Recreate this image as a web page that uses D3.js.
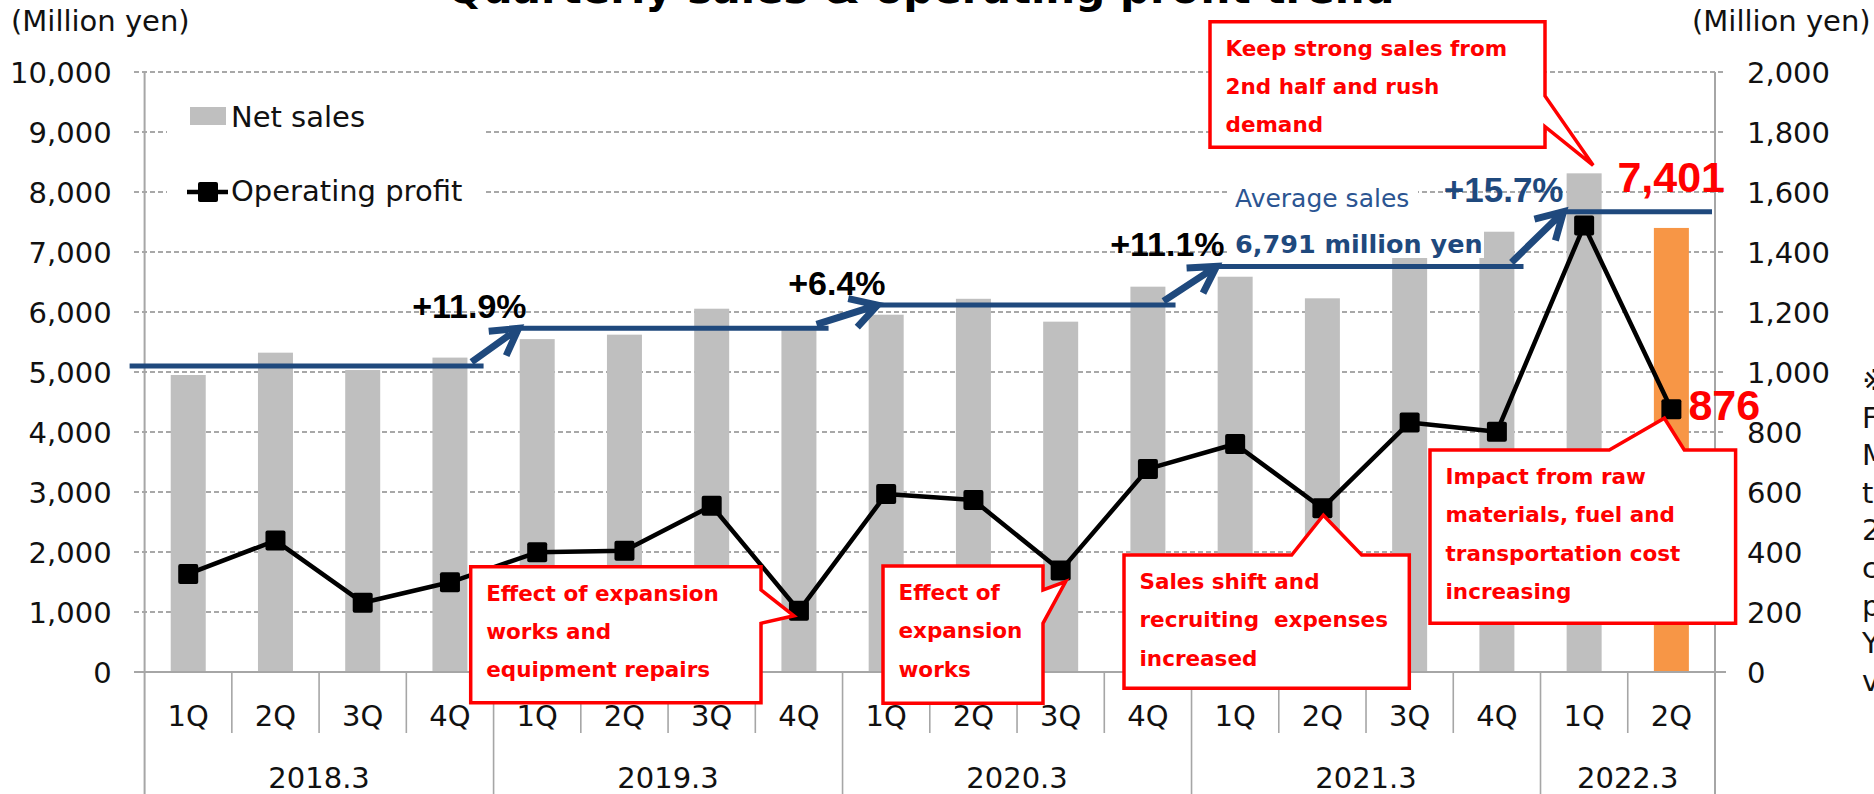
<!DOCTYPE html>
<html>
<head>
<meta charset="utf-8">
<script src="https://cdn.jsdelivr.net/npm/d3@7"></script>
<style>
  body { margin: 0; background: #fff; }
  svg { display: block; font-family: "DejaVu Sans", Verdana, sans-serif; }
</style>
</head>
<body>
<svg id="chart" width="1874" height="794"></svg>
<script>
// ---- data ----
const quarters = ["1Q","2Q","3Q","4Q","1Q","2Q","3Q","4Q","1Q","2Q","3Q","4Q","1Q","2Q","3Q","4Q","1Q","2Q"];
const fiscalYears = ["2018.3","2019.3","2020.3","2021.3","2022.3"];
const yearOfQuarter = [0,0,0,0,1,1,1,1,2,2,2,2,3,3,3,3,4,4];
const netSales = [4950, 5322, 5033, 5240, 5548, 5622, 6055, 5705, 5955, 6220, 5839, 6422, 6588, 6228, 6990, 7338, 8311, 7401];
const operatingProfit = [327, 438, 231, 299, 399, 404, 554, 204, 593, 573, 338, 677, 760, 546, 832, 801, 1488, 876];
const avgSales = [5100, 5728, 6115, 6760, 7672];
const growthLabels = ["+11.9%", "+6.4%", "+11.1%", "+15.7%"];
const leftTicks = [0, 1000, 2000, 3000, 4000, 5000, 6000, 7000, 8000, 9000, 10000];
const rightTicks = [0, 200, 400, 600, 800, 1000, 1200, 1400, 1600, 1800, 2000];
const footnoteLines = ["※", "F", "M", "t", "2", "c", "p", "Y", "v"];
const callouts = [
  { idx: 16, lines: ["Keep strong sales from", "2nd half and rush", "demand"] },
  { idx: 7,  lines: ["Effect of expansion", "works and", "equipment repairs"] },
  { idx: 10, lines: ["Effect of", "expansion", "works"] },
  { idx: 13, lines: ["Sales shift and", "recruiting  expenses", "increased"] },
  { idx: 17, lines: ["Impact from raw", "materials, fuel and", "transportation cost", "increasing"] }
];

const svg = d3.select("#chart");
const W = 1874, H = 794;
svg.append("rect").attr("width", W).attr("height", H).attr("fill", "#fff");

const x0 = 144.6, x1 = 1715, yTop = 72, yBase = 672;
const x = d3.scaleBand().domain(d3.range(quarters.length)).range([x0, x1]).padding(0);
const yL = d3.scaleLinear().domain([0, 10000]).range([yBase, yTop]);
const yR = d3.scaleLinear().domain([0, 2000]).range([yBase, yTop]);
const bw = x.bandwidth();
const cx = i => x(i) + bw / 2;

const axisGrey = "#a6a6a6";
const blue = "#1f497d";
const red = "#ff0000";

// title (cut off at the top in the original)
svg.append("text").attr("x", 447).attr("y", 3)
  .attr("font-size", 42).attr("font-weight", "bold").attr("fill", "#000")
  .text("Quarterly sales & operating profit trend");

// gridlines
svg.append("g").selectAll("line").data(leftTicks.filter(d => d > 0)).join("line")
  .attr("x1", 134).attr("x2", 1726)
  .attr("y1", d => yL(d)).attr("y2", d => yL(d))
  .attr("stroke", "#8c8c8c").attr("stroke-width", 1.4).attr("stroke-dasharray", "5,3");

// legend background hides the gridlines behind it
svg.append("rect").attr("x", 167).attr("y", 84).attr("width", 316).attr("height", 150).attr("fill", "#fff");

// bars
svg.append("g").selectAll("rect").data(netSales).join("rect")
  .attr("x", (d, i) => cx(i) - 17.5)
  .attr("width", 35)
  .attr("y", d => yL(d))
  .attr("height", d => yBase - yL(d))
  .attr("fill", (d, i) => i === netSales.length - 1 ? "#f79646" : "#bfbfbf");

// axes frame
svg.append("line").attr("x1", 134).attr("x2", 1726).attr("y1", yBase).attr("y2", yBase)
  .attr("stroke", axisGrey).attr("stroke-width", 2);
svg.append("line").attr("x1", x0).attr("x2", x0).attr("y1", yTop).attr("y2", H)
  .attr("stroke", axisGrey).attr("stroke-width", 2);
svg.append("line").attr("x1", x1).attr("x2", x1).attr("y1", yTop).attr("y2", H)
  .attr("stroke", axisGrey).attr("stroke-width", 2);
// category separators
svg.append("g").selectAll("line").data(d3.range(1, quarters.length)).join("line")
  .attr("x1", i => x(i)).attr("x2", i => x(i))
  .attr("y1", yBase).attr("y2", i => yearOfQuarter[i] !== yearOfQuarter[i - 1] ? H : 733)
  .attr("stroke", axisGrey).attr("stroke-width", 1.6);

// y axes labels
const gL = svg.append("g").attr("transform", `translate(${x0},0)`)
  .call(d3.axisLeft(yL).tickValues(leftTicks).tickFormat(d3.format(",")).tickSize(0).tickPadding(33));
const gR = svg.append("g").attr("transform", `translate(${x1},0)`)
  .call(d3.axisRight(yR).tickValues(rightTicks).tickFormat(d3.format(",")).tickSize(0).tickPadding(32));
const gX = svg.append("g").attr("transform", `translate(0,${yBase})`)
  .call(d3.axisBottom(x).tickFormat(i => quarters[i]).tickSize(0).tickPadding(33));
[gL, gR, gX].forEach(g => {
  g.select(".domain").remove();
  g.selectAll("text").attr("font-size", 29).attr("fill", "#111")
    .attr("font-family", "'DejaVu Sans', Verdana, sans-serif");
});
gL.selectAll("text").attr("dy", "0.36em");
gR.selectAll("text").attr("dy", "0.36em");

// fiscal year labels
svg.append("g").selectAll("text").data(fiscalYears).join("text")
  .attr("x", (d, k) => {
    const idx = yearOfQuarter.map((v, i) => v === k ? i : -1).filter(i => i >= 0);
    return (x(idx[0]) + x(idx[idx.length - 1]) + bw) / 2;
  })
  .attr("y", 788).attr("text-anchor", "middle").attr("font-size", 29).attr("fill", "#111")
  .text(d => d);

// unit labels
svg.append("text").attr("x", 11).attr("y", 31).attr("font-size", 29).attr("fill", "#111").text("(Million yen)");
svg.append("text").attr("x", 1692).attr("y", 31).attr("font-size", 29).attr("fill", "#111").text("(Million yen)");

// average sales lines and growth arrows
const groupStart = k => x(yearOfQuarter.indexOf(k));
const groupEnd = k => x(yearOfQuarter.lastIndexOf(k)) + bw;
const startPad = [-15, 27, 37, 27, 25];
const endPad = [10, 14, 16, 17, 3];
const segs = avgSales.map((v, k) => ({
  xa: groupStart(k) + startPad[k], xb: groupEnd(k) - endPad[k], y: yL(v)
}));
svg.append("g").selectAll("line").data(segs).join("line")
  .attr("x1", d => d.xa).attr("x2", d => d.xb).attr("y1", d => d.y).attr("y2", d => d.y)
  .attr("stroke", blue).attr("stroke-width", 5);

const arrowG = svg.append("g");
growthLabels.forEach((lab, k) => {
  const s = [segs[k].xb - 12, segs[k].y - 4];
  const t = [segs[k + 1].xa - 2, segs[k + 1].y];
  const ang = Math.atan2(s[1] - t[1], s[0] - t[0]);
  const L = 30, a = Math.PI / 6;
  const p1 = [t[0] + L * Math.cos(ang + a), t[1] + L * Math.sin(ang + a)];
  const p2 = [t[0] + L * Math.cos(ang - a), t[1] + L * Math.sin(ang - a)];
  arrowG.append("path")
    .attr("d", `M${s[0]},${s[1]}L${t[0]},${t[1]}M${p1[0]},${p1[1]}L${t[0]},${t[1]}L${p2[0]},${p2[1]}`)
    .attr("fill", "none").attr("stroke", blue).attr("stroke-width", 7).attr("stroke-linejoin", "miter");
  arrowG.append("text").attr("x", t[0] + (k === 3 ? 0 : 8)).attr("y", t[1] - 10)
    .attr("text-anchor", "end").attr("font-family", "'Liberation Sans', Arial, sans-serif")
    .attr("font-weight", "bold").attr("font-size", k === 3 ? 35 : 34)
    .attr("fill", k === 3 ? blue : "#000").text(lab);
});

// average sales note
svg.append("rect").attr("x", 1230).attr("y", 185).attr("width", 188).attr("height", 27).attr("fill", "#fff");
svg.append("rect").attr("x", 1230).attr("y", 229).attr("width", 254).attr("height", 29).attr("fill", "#fff");
svg.append("text").attr("x", 1235).attr("y", 207).attr("font-size", 25).attr("fill", "#2b5592").text("Average sales");
svg.append("text").attr("x", 1235).attr("y", 252.5).attr("font-size", 25.5).attr("font-weight", "bold")
  .attr("fill", blue).text("6,791 million yen");

// operating profit line
const line = d3.line().x((d, i) => cx(i)).y(d => yR(d));
svg.append("path").datum(operatingProfit).attr("d", line)
  .attr("fill", "none").attr("stroke", "#000").attr("stroke-width", 4.5).attr("stroke-linejoin", "round");
svg.append("g").selectAll("rect").data(operatingProfit).join("rect")
  .attr("x", (d, i) => cx(i) - 10).attr("y", d => yR(d) - 10)
  .attr("width", 20).attr("height", 20).attr("rx", 2).attr("fill", "#000");

// latest values
const last = netSales.length - 1;
svg.append("text").attr("x", cx(last) - 54).attr("y", yL(netSales[last]) - 36)
  .attr("font-family", "'Liberation Sans', Arial, sans-serif").attr("font-weight", "bold")
  .attr("font-size", 43).attr("fill", red).text(d3.format(",")(netSales[last]));
svg.append("text").attr("x", cx(last) + 17).attr("y", yR(operatingProfit[last]) + 11)
  .attr("font-family", "'Liberation Sans', Arial, sans-serif").attr("font-weight", "bold")
  .attr("font-size", 43).attr("fill", red).text(operatingProfit[last]);

// callouts
const layout = [
  { box: [1210, 21.7, 1545, 147.3], side: "right", a: 96, b: 126.7, tip: i => [cx(i) + 9, yL(netSales[i]) - 8] },
  { box: [470.7, 566.7, 761, 702.7], side: "right", a: 590, b: 623.3, tip: i => [cx(i) - 5, yR(operatingProfit[i]) + 5] },
  { box: [883, 566, 1043, 703.3], side: "right", a: 590, b: 623.3, tip: i => [cx(i) + 5, yR(operatingProfit[i]) + 11] },
  { box: [1124, 555, 1409.3, 688.3], side: "top", a: 1291.7, b: 1361.7, tip: i => [cx(i) + 1, yR(operatingProfit[i]) + 7] },
  { box: [1430, 450, 1735.6, 623.3], side: "top", a: 1609.3, b: 1684.3, tip: i => [cx(i) - 7, yR(operatingProfit[i]) + 9] }
];
const cg = svg.append("g");
callouts.forEach((c, k) => {
  const L = layout[k];
  const [bx0, by0, bx1, by1] = L.box;
  const [tx, ty] = L.tip(c.idx);
  let d;
  if (L.side === "right") {
    d = `M${bx0},${by0}L${bx1},${by0}L${bx1},${L.a}L${tx},${ty}L${bx1},${L.b}L${bx1},${by1}L${bx0},${by1}Z`;
  } else {
    d = `M${bx0},${by0}L${L.a},${by0}L${tx},${ty}L${L.b},${by0}L${bx1},${by0}L${bx1},${by1}L${bx0},${by1}Z`;
  }
  cg.append("path").attr("d", d).attr("fill", "#fff").attr("stroke", red).attr("stroke-width", 3.5);
  const t = cg.append("text").attr("font-size", 21.5).attr("font-weight", "bold").attr("fill", red)
    .attr("xml:space", "preserve").style("white-space", "pre");
  c.lines.forEach((ln, j) => {
    t.append("tspan").attr("x", bx0 + 15.5).attr("y", by0 + 34 + j * 38.3).text(ln);
  });
});

// legend
svg.append("rect").attr("x", 190).attr("y", 107).attr("width", 36).attr("height", 18).attr("fill", "#bfbfbf");
svg.append("text").attr("x", 231).attr("y", 127).attr("font-size", 29).attr("fill", "#111").text("Net sales");
svg.append("line").attr("x1", 187).attr("x2", 228).attr("y1", 192).attr("y2", 192)
  .attr("stroke", "#000").attr("stroke-width", 4.5);
svg.append("rect").attr("x", 198).attr("y", 182).attr("width", 20).attr("height", 20).attr("rx", 2).attr("fill", "#000");
svg.append("text").attr("x", 231).attr("y", 201).attr("font-size", 29).attr("fill", "#111").text("Operating profit");

// footnote, clipped by the right edge
svg.append("g").selectAll("text").data(footnoteLines).join("text")
  .attr("x", 1862).attr("y", (d, i) => 390 + i * 37.6)
  .attr("font-size", 29).attr("fill", "#111").text(d => d);
</script>
</body>
</html>
